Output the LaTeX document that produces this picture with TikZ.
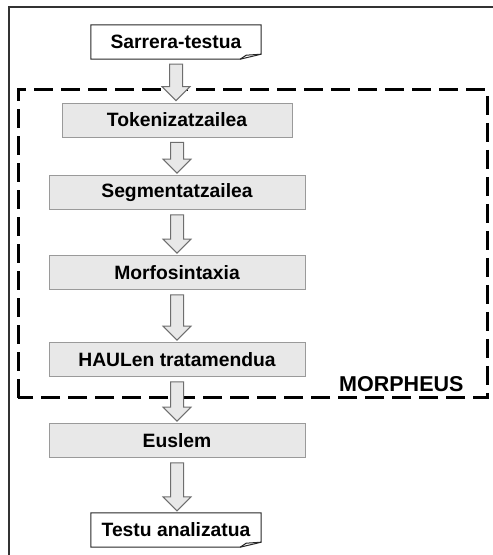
\documentclass[tikz,border=0pt]{standalone}
\usepackage{fontspec}
\setmainfont{Liberation Sans}
\usetikzlibrary{calc}
\definecolor{boxfill}{HTML}{E8E8E8}
\definecolor{boxline}{HTML}{9A9A9A}
\definecolor{arrline}{HTML}{6E6E6E}
\tikzset{
  procbox/.style={draw=boxline, fill=boxfill, line width=0.9pt, minimum height=34pt, inner sep=0pt, font=\fontsize{19.3}{22}\selectfont\bfseries},
  docbox/.style={draw=none, minimum width=170pt, minimum height=34pt, inner sep=0pt, font=\fontsize{19.3}{22}\selectfont\bfseries},
  docline/.style={draw=black!85, line width=1pt},
  blockarr/.style={draw=arrline, fill=boxfill, line width=1pt, line join=miter},
  morphbox/.style={draw=black, line width=3pt, dash pattern=on 19pt off 8pt},
}
\newcommand{\flowarrow}[2]{%
  \path[blockarr] let \p1=($(#1.south)+(0pt,-5pt)$), \p2=($(#2.north)+(0pt,2pt)$) in
    (\x1-6.5pt,\y1) -- (\x1+6.5pt,\y1) -- (\x1+6.5pt,\y2+14pt) -- (\x1+14pt,\y2+14pt)
    -- (\x1,\y2) -- (\x1-14pt,\y2+14pt) -- (\x1-6.5pt,\y2+14pt) -- cycle;}
\begin{document}
\begin{tikzpicture}[x=1pt,y=1pt]
\useasboundingbox (0,0) rectangle (493,555);
% outer frame (partly visible)
\draw[line width=1.2pt, black!80] (9,0) -- (9,548) -- (493,548);
% MORPHEUS dashed box
\draw[morphbox] (18,157) rectangle (487,465);
\node[anchor=base east, font=\fontsize{21.5}{24}\selectfont\bfseries] (morph) at (467,163) {MORPHEUS};
% document nodes
\node[docbox] (in) at (176,513) {Sarrera-testua};
\node[docbox] (out) at (176,25) {Testu analizatua};
\foreach \n in {in,out}{
  \draw[docline] (\n.north west) -- (\n.north east) -- ($(\n.south east)+(0pt,5pt)$)
    -- ($(\n.south east)+(-21pt,0pt)$) -- (\n.south west) -- cycle;
  \draw[docline] ($(\n.south east)+(-21pt,0pt)$) -- ($(\n.south east)+(-15pt,4pt)$) -- ($(\n.south east)+(0pt,5pt)$);
}
% process boxes
\node[procbox, minimum width=230pt] (tok) at (177,435) {Tokenizatzailea};
\node[procbox, minimum width=256pt] (seg) at (177,362.5) {Segmentatzailea};
\node[procbox, minimum width=256pt] (mor) at (177,282.5) {Morfosintaxia};
\node[procbox, minimum width=256pt] (haul) at (177,195.5) {HAULen tratamendua};
\node[procbox, minimum width=256pt] (eus) at (177,114.5) {Euslem};
% arrows
\flowarrow{in}{tok}
\flowarrow{tok}{seg}
\flowarrow{seg}{mor}
\flowarrow{mor}{haul}
\flowarrow{haul}{eus}
\flowarrow{eus}{out}
\end{tikzpicture}
\end{document}
